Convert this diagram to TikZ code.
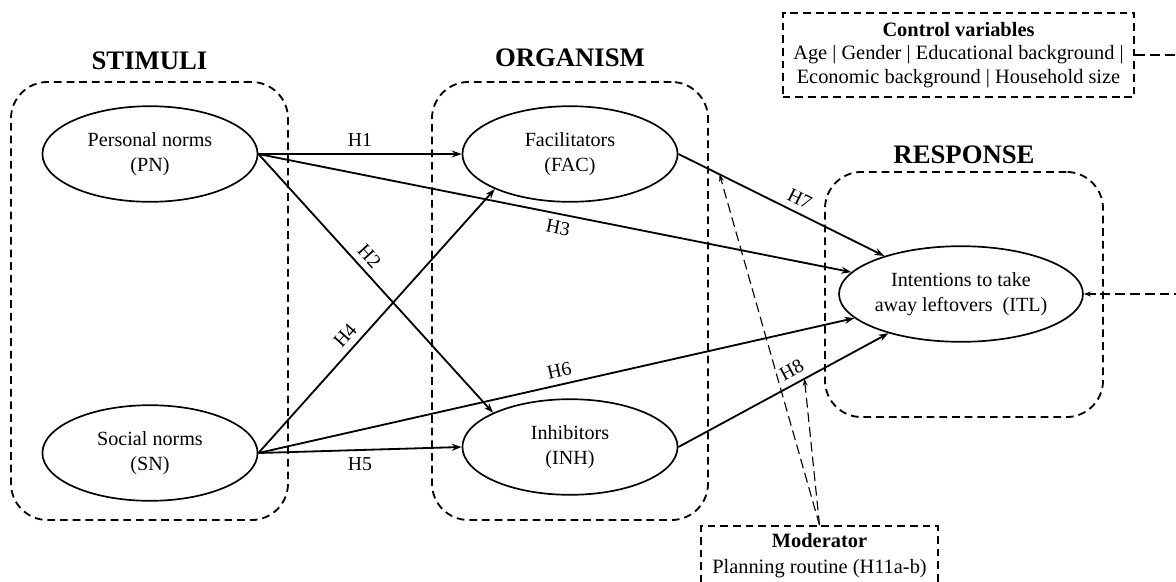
\documentclass[tikz,border=0pt]{standalone}
\usepackage{fontspec}
\setmainfont{Liberation Serif}
\usetikzlibrary{shapes.geometric, arrows.meta, positioning}
\tikzset{
    group/.style = {rectangle, rounded corners=26pt, draw=black, line width=1.3pt, dash pattern=on 5.5pt off 3.5pt, inner sep=0pt},
    head/.style = {font=\fontsize{19}{22}\selectfont\bfseries},
    latent/.style = {ellipse, draw=black, line width=1.2pt, minimum width=153pt, minimum height=68pt, inner sep=0pt, align=center, font=\fontsize{14.3}{17.5}\selectfont},
    infobox/.style = {rectangle, draw=black, line width=1.3pt, dash pattern=on 5.5pt off 3.5pt, align=center, inner sep=2pt, font=\fontsize{14.5}{16.5}\selectfont},
    hyp/.style = {line width=1.3pt, -{Stealth[length=7pt, width=5pt]}},
    modline/.style = {line width=0.8pt, dash pattern=on 7pt off 3.5pt, -{Stealth[length=5pt, width=3.5pt]}},
    hlabel/.style = {font=\fontsize{14}{16}\selectfont, inner sep=4.5pt}
}
\begin{document}
\begin{tikzpicture}[x=0.025cm, y=-0.025cm]
\useasboundingbox (0,0) rectangle (1176,581);

% Group frames and headings
\node (stimbox) [group, minimum width=197pt, minimum height=311.5pt] at (149.5,301) {};
\node (orgbox) [group, minimum width=196.3pt, minimum height=311.5pt] at (570,301) {};
\node (respbox) [group, minimum width=197.7pt, minimum height=174.3pt] at (964,294.5) {};
\node (stimhead) [head, above=4.5pt of stimbox] {STIMULI};
\node (orghead) [head, above=6.5pt of orgbox] {ORGANISM};
\node (resphead) [head, above=1.6pt of respbox] {RESPONSE};

% Constructs
\node (pn) [latent] at (150,154) {Personal norms\\(PN)};
\node (sn) [latent] at (150,453) {Social norms\\(SN)};
\node (fac) [latent] at (570,154) {Facilitators\\(FAC)};
\node (inh) [latent] at (570,447) {Inhibitors\\(INH)};
\node (itl) [latent] at (961,294) {Intentions to take\\away leftovers \ (ITL)};

% Control variables and moderator
\node (ctrl) [infobox, minimum width=250pt, minimum height=60pt] at (958.5,55) {\textbf{Control variables}\\Age | Gender | Educational background |\\Economic background | Household size};
\node (mod) [infobox, minimum width=168.6pt, minimum height=42pt] at (819.5,555.5) {\textbf{Moderator}\\[1.5pt]Planning routine (H11a-b)};

% Hypotheses
\draw [hyp] (pn.east) -- node[hlabel, above] {H1} (fac.west);
\draw [hyp] (pn.east) -- node[hlabel, sloped, above, pos=0.43] {H2} (inh.156);
\draw [hyp] (pn.east) -- node[hlabel, sloped, below, pos=0.51] {H3} (itl);
\draw [hyp] (sn.east) -- node[hlabel, sloped, above, pos=0.41] {H4} (fac.205);
\draw [hyp] (sn.east) -- node[hlabel, below] {H5} (inh.west);
\draw [hyp] (sn.east) -- node[hlabel, sloped, above, pos=0.51] {H6} (itl);
\draw [hyp] (fac.east) -- node[hlabel, sloped, above, pos=0.56] {H7} coordinate[pos=0.2] (m7) (itl);
\draw [hyp] (inh.east) -- node[hlabel, sloped, above, pos=0.57] {H8} coordinate[pos=0.6] (m8) (itl);

% Moderation and controls
\draw [modline] (mod.north) -- (m7);
\draw [modline] (mod.north) -- (m8);
\draw [modline] (ctrl.east) -- ++(60,0) |- (itl.east);

\end{tikzpicture}
\end{document}
